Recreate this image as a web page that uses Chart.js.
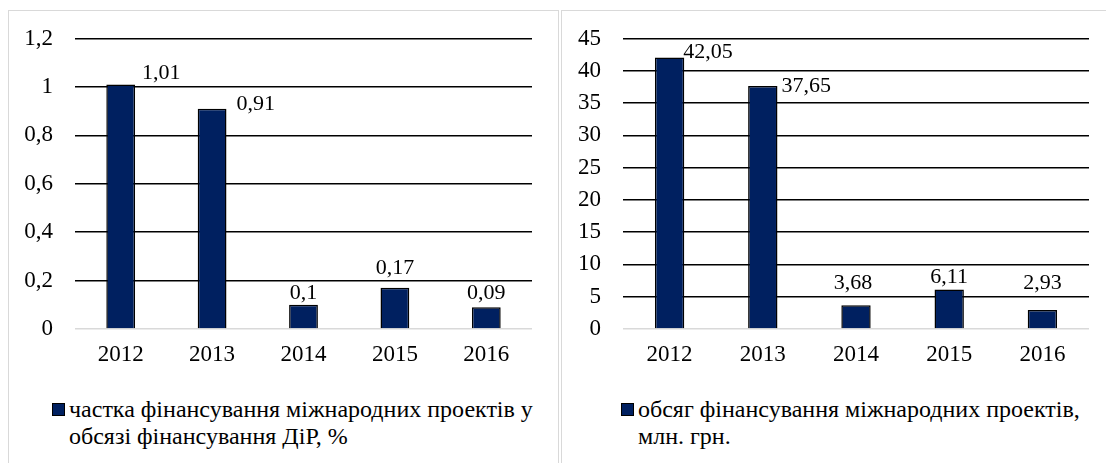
<!DOCTYPE html>
<html>
<head>
  <meta charset="UTF-8">
  <title>Фінансування міжнародних проектів</title>
  <style>
    body {
      margin: 0;
      background: #ffffff;
      font-family: 'Liberation Serif';
      color: #000000;
    }
    .panel {
      position: absolute;
      top: 10px;
      height: 470px;
      border: 1px solid #d9d9d9;
      background: #ffffff;
    }
    #p1 { left: 8px; width: 549px; }
    #p2 { left: 561px; width: 560px; }
    .panel canvas { position: absolute; left: 0; top: 0; }
    .legend {
      position: absolute;
      top: 385px;
      font-family: 'Liberation Serif';
      font-size: 24px;
      line-height: 27px;
      white-space: nowrap;
    }
    .legend .box {
      position: absolute;
      left: -17px;
      top: 7px;
      width: 11px;
      height: 11px;
      background: #002060;
      border: 1px solid #000;
    }
  </style>
</head>
<body>
  <div class="panel" id="p1">
    <canvas id="chart1"></canvas>
    <div class="legend" style="left:60px;">
      <span class="box"></span>частка фінансування міжнародних проектів у<br>обсязі фінансування ДіР, %
    </div>
  </div>
  <div class="panel" id="p2">
    <canvas id="chart2"></canvas>
    <div class="legend" style="left:76px;">
      <span class="box"></span>обсяг фінансування міжнародних проектів,<br>млн. грн.
    </div>
  </div>

  <script src="https://cdn.jsdelivr.net/npm/chart.js"></script>
  <script>
    // дані
    var years = ['2012', '2013', '2014', '2015', '2016'];
    var shareValues = [1.01, 0.91, 0.1, 0.17, 0.09];
    var volumeValues = [42.05, 37.65, 3.68, 6.11, 2.93];
    var shareTicks = [0, 0.2, 0.4, 0.6, 0.8, 1, 1.2];
    var volumeTicks = [0, 5, 10, 15, 20, 25, 30, 35, 40, 45];

    // розміщення підписів: [режим, dx, dy]
    var sharePos = [['right', 7, -11], ['right', 10, -4], ['top', 0, -12], ['top', 0, -20], ['top', 0, -14]];
    var volumePos = [['right', -1, -5], ['right', 4, 0], ['top', -3, -22], ['top', 0, -12], ['top', 0, -27]];

    var FONT = 'Liberation Serif';
    Chart.defaults.font.family = FONT;

    function fmt(v) {
      return String(v).replace('.', ',');
    }

    var valueLabels = {
      id: 'valueLabels',
      afterDatasetsDraw: function(chart, args, opts) {
        var ctx = chart.ctx;
        var meta = chart.getDatasetMeta(0);
        var data = chart.data.datasets[0].data;
        ctx.save();
        ctx.font = '22px "Liberation Serif"';
        ctx.fillStyle = '#000';
        ctx.textBaseline = 'middle';
        meta.data.forEach(function(bar, i) {
          var p = opts.pos[i];
          var half = bar.width / 2;
          if (p[0] === 'right') {
            ctx.textAlign = 'left';
            ctx.fillText(fmt(data[i]), bar.x + half + p[1], bar.y + p[2]);
          } else {
            ctx.textAlign = 'center';
            ctx.fillText(fmt(data[i]), bar.x + p[1], bar.y + p[2]);
          }
        });
        ctx.restore();
      }
    };

    function makeChart(id, w, values, ticks, pos, yWidth, padRight, label) {
      var canvas = document.getElementById(id);
      canvas.width = w;
      canvas.height = 372;
      canvas.style.width = w + 'px';
      canvas.style.height = '372px';
      var max = ticks[ticks.length - 1];
      var step = ticks[1] - ticks[0];
      return new Chart(canvas, {
        type: 'bar',
        data: {
          labels: years,
          datasets: [{
            label: label,
            data: values,
            backgroundColor: '#002060',
            borderColor: '#000000',
            borderWidth: 1.5,
            barPercentage: 1,
            categoryPercentage: 0.315
          }]
        },
        options: {
          responsive: false,
          animation: false,
          layout: { padding: { top: 27.5, right: padRight, left: 0, bottom: 0 } },
          plugins: {
            legend: { display: false },
            tooltip: { enabled: false },
            valueLabels: { pos: pos }
          },
          scales: {
            x: {
              grid: { display: false, drawTicks: false },
              border: { display: false },
              ticks: {
                color: '#000',
                font: { family: FONT, size: 23 },
                padding: 12,
                maxRotation: 0
              },
              afterFit: function(s) { s.height = 54; s.paddingLeft = 0; s.paddingRight = 0; }
            },
            y: {
              min: 0,
              max: max,
              grid: {
                drawTicks: false,
                lineWidth: 1.5,
                color: function(c) { return c.tick && c.tick.value === 0 ? '#d9d9d9' : '#000000'; }
              },
              border: { display: false },
              ticks: {
                stepSize: step,
                color: '#000',
                font: { family: FONT, size: 23 },
                padding: 22,
                callback: function(v) { return fmt(Math.round(v * 10) / 10); }
              },
              afterFit: function(s) { s.width = yWidth; s.paddingTop = 0; s.paddingBottom = 0; }
            }
          }
        },
        plugins: [valueLabels]
      });
    }

    makeChart('chart1', 549, shareValues, shareTicks, sharePos, 66, 26,
      'частка фінансування міжнародних проектів у обсязі фінансування ДіР, %');
    makeChart('chart2', 544, volumeValues, volumeTicks, volumePos, 61, 17,
      'обсяг фінансування міжнародних проектів, млн. грн.');
  </script>
</body>
</html>
